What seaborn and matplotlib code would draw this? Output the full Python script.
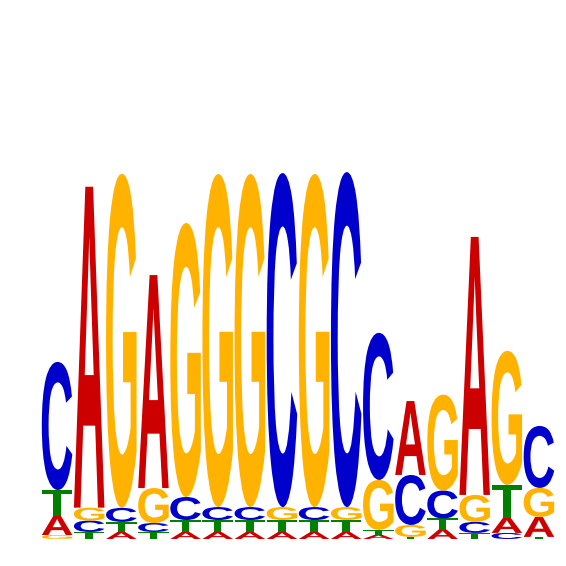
import numpy as np
import matplotlib
matplotlib.use("Agg")
import matplotlib.pyplot as plt
import seaborn as sns
from matplotlib.textpath import TextPath
from matplotlib.patches import PathPatch
from matplotlib.font_manager import FontProperties
from matplotlib.transforms import Affine2D

# ============================================================
# Motif information content (bits) per position
# ============================================================

positions = list(range(1, 17))

A_bits = [0.100, 1.689, 0.037, 1.121, 0.037, 0.037, 0.037, 0.037,
          0.037, 0.037, 0.022, 0.389, 0.050, 1.358, 0.079, 0.105]
C_bits = [0.674, 0.060, 0.074, 0.047, 0.121, 0.068, 0.068, 1.758,
          0.068, 1.763, 0.774, 0.263, 0.147, 0.058, 0.032, 0.326]
G_bits = [0.021, 0.068, 1.758, 0.184, 1.442, 1.753, 1.753, 0.068,
          1.753, 0.068, 0.263, 0.063, 0.505, 0.142, 0.705, 0.153]
T_bits = [0.137, 0.037, 0.053, 0.037, 0.063, 0.063, 0.063, 0.063,
          0.063, 0.063, 0.026, 0.011, 0.058, 0.032, 0.174, 0.011]

letter_colors = {"A": "#CC0000", "C": "#0000CC", "G": "#FFB300", "T": "#008000"}

# ============================================================
# Figure setup
# ============================================================

sns.set_theme(style="white")

fig = plt.figure(figsize=(5.66, 5.66), dpi=100)
ax = fig.add_axes([41 / 566, 27 / 566, 514 / 566, 380 / 566])

font = FontProperties(family="Liberation Sans", weight="bold")

glyphs = {}
for letter in "ACGT":
    path = TextPath((0, 0), letter, size=1, prop=font)
    glyphs[letter] = (path, path.get_extents())


def draw_letter(ax, letter, x, y, w, h):
    path, ext = glyphs[letter]
    tr = (Affine2D()
          .translate(-ext.x0, -ext.y0)
          .scale(w / ext.width, h / ext.height)
          .translate(x, y))
    patch = PathPatch(tr.transform_path(path), facecolor=letter_colors[letter],
                      edgecolor="none", linewidth=0)
    ax.add_patch(patch)


letter_width = 0.95

for i, pos in enumerate(positions):
    column = [("A", A_bits[i]), ("C", C_bits[i]), ("G", G_bits[i]), ("T", T_bits[i])]
    column.sort(key=lambda item: item[1])
    y = 0.0
    for letter, height in column:
        draw_letter(ax, letter, pos - letter_width / 2, y, letter_width, height)
        y += height

ax.set_xlim(0.5, 16.5)
ax.set_ylim(0, 2)
ax.set_axis_off()

fig.savefig("out.png", dpi=100, facecolor="white")
